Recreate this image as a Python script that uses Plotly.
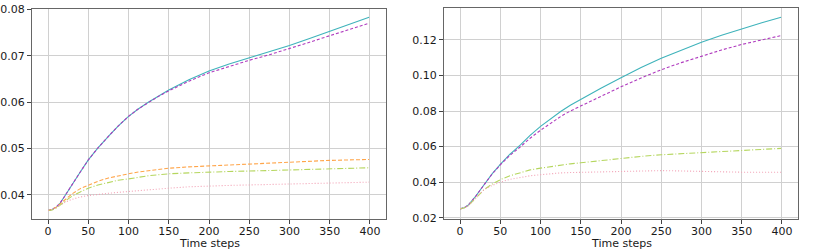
import plotly.graph_objects as go

# ---- data ----
x_steps = [0, 5, 10, 15, 20, 25, 30, 40, 50, 62, 75, 87, 100, 112, 125, 137, 150, 175, 200, 225, 250, 275, 300, 325, 350, 375, 399]

left_teal = [0.0366, 0.0368, 0.0373, 0.0382, 0.0395, 0.0409, 0.0422, 0.0449, 0.0475, 0.0501, 0.0526, 0.0548, 0.0569, 0.0585, 0.0600, 0.0613, 0.0626, 0.0648, 0.0667, 0.0682, 0.0695, 0.0708, 0.0722, 0.0737, 0.0752, 0.0767, 0.0783]
left_purple = [0.0366, 0.0368, 0.0373, 0.0382, 0.0395, 0.0409, 0.0422, 0.0449, 0.0475, 0.0501, 0.0526, 0.0548, 0.0569, 0.0585, 0.0599, 0.0612, 0.0624, 0.0645, 0.0663, 0.0677, 0.0690, 0.0702, 0.0715, 0.0729, 0.0743, 0.0756, 0.0770]
left_orange = [0.0366, 0.0368, 0.0373, 0.0380, 0.0388, 0.0395, 0.0402, 0.0413, 0.0421, 0.0429, 0.0436, 0.0441, 0.0445, 0.0449, 0.0452, 0.0455, 0.0457, 0.0460, 0.0462, 0.0465, 0.0467, 0.0469, 0.0470, 0.0472, 0.0474, 0.0475, 0.0476]
left_green = [0.0366, 0.0367, 0.0371, 0.0377, 0.0384, 0.0391, 0.0397, 0.0406, 0.0414, 0.0421, 0.0427, 0.0431, 0.0434, 0.0438, 0.0441, 0.0443, 0.0445, 0.0447, 0.0449, 0.0450, 0.0451, 0.0452, 0.0453, 0.0454, 0.0455, 0.0457, 0.0458]
left_pink = [0.0366, 0.0368, 0.0373, 0.0378, 0.0383, 0.0387, 0.0390, 0.0395, 0.0398, 0.0401, 0.0403, 0.0405, 0.0407, 0.0409, 0.0411, 0.0413, 0.0414, 0.0417, 0.0419, 0.0420, 0.0421, 0.0422, 0.0423, 0.0424, 0.0425, 0.0426, 0.0427]

right_teal = [0.0250, 0.0256, 0.0270, 0.0295, 0.0324, 0.0356, 0.0388, 0.0448, 0.0500, 0.0557, 0.0610, 0.0663, 0.0714, 0.0756, 0.0797, 0.0832, 0.0865, 0.0928, 0.0987, 0.1045, 0.1097, 0.1144, 0.1187, 0.1226, 0.1262, 0.1296, 0.1327]
right_purple = [0.0250, 0.0256, 0.0270, 0.0295, 0.0324, 0.0356, 0.0388, 0.0447, 0.0498, 0.0551, 0.0599, 0.0647, 0.0692, 0.0731, 0.0769, 0.0800, 0.0828, 0.0884, 0.0936, 0.0986, 0.1032, 0.1072, 0.1108, 0.1143, 0.1174, 0.1200, 0.1224]
right_green = [0.0250, 0.0255, 0.0267, 0.0290, 0.0317, 0.0340, 0.0359, 0.0390, 0.0414, 0.0436, 0.0455, 0.0469, 0.0479, 0.0488, 0.0496, 0.0503, 0.0509, 0.0522, 0.0533, 0.0545, 0.0554, 0.0560, 0.0566, 0.0571, 0.0576, 0.0583, 0.0590]
right_pink = [0.0250, 0.0255, 0.0267, 0.0290, 0.0317, 0.0340, 0.0359, 0.0382, 0.0400, 0.0416, 0.0428, 0.0436, 0.0442, 0.0448, 0.0452, 0.0454, 0.0455, 0.0458, 0.0461, 0.0464, 0.0465, 0.0463, 0.0460, 0.0458, 0.0456, 0.0456, 0.0456]

x_ticks = [0, 50, 100, 150, 200, 250, 300, 350, 400]
left_yticks = [0.04, 0.05, 0.06, 0.07, 0.08]
right_yticks = [0.02, 0.04, 0.06, 0.08, 0.10, 0.12]
x_title = "Time steps"

TEAL = "#3fb3bb"
PURPLE = "#b03cbf"
ORANGE = "#ffa54a"
GREEN = "#b5d65e"
PINK = "#f2a0b4"

fig = go.Figure()

def add(x, y, color, dash, xa, ya):
    fig.add_trace(go.Scatter(x=x, y=y, mode="lines", xaxis=xa, yaxis=ya,
                             line=dict(color=color, width=1.1, dash=dash),
                             showlegend=False, hoverinfo="skip"))

add(x_steps, left_teal, TEAL, "solid", "x", "y")
add(x_steps, left_purple, PURPLE, "3px,2px", "x", "y")
add(x_steps, left_orange, ORANGE, "4px,2px", "x", "y")
add(x_steps, left_green, GREEN, "6px,2px,1px,2px", "x", "y")
add(x_steps, left_pink, PINK, "1px,2px", "x", "y")

add(x_steps, right_teal, TEAL, "solid", "x2", "y2")
add(x_steps, right_purple, PURPLE, "3px,2px", "x2", "y2")
add(x_steps, right_green, GREEN, "6px,2px,1px,2px", "x2", "y2")
add(x_steps, right_pink, PINK, "1px,2px", "x2", "y2")

W, H = 830, 251
font = dict(family="DejaVu Sans", size=11, color="#1a1a1a")

def xaxis(dom, anchor):
    return dict(domain=dom, anchor=anchor, range=[-20, 420], tickvals=x_ticks,
                ticks="outside", ticklen=4, tickcolor="#444444", showline=True, mirror=True,
                linecolor="#666666", linewidth=1, showgrid=True, gridcolor="#d0d0d0",
                gridwidth=1, zeroline=False, tickfont=font, automargin=False,
                ticklabelstandoff=-2)

def yaxis(dom, anchor, rng, vals, fmt):
    return dict(domain=dom, anchor=anchor, range=rng, tickvals=vals, tickformat=fmt,
                ticks="outside", ticklen=4, tickcolor="#444444", showline=True, mirror=True,
                linecolor="#666666", linewidth=1, showgrid=True, gridcolor="#d0d0d0",
                gridwidth=1, zeroline=False, tickfont=font, automargin=False)

xd1 = [32 / W, 386 / W]
xd2 = [444 / W, 798 / W]
fig.update_layout(
    width=W, height=H,
    margin=dict(l=0, r=0, t=0, b=0, autoexpand=False),
    paper_bgcolor="white", plot_bgcolor="white",
    xaxis=xaxis(xd1, "y"),
    yaxis=yaxis([(H - 219) / H, (H - 9) / H], "x", [0.03475, 0.08007], left_yticks, ".2f"),
    xaxis2=xaxis(xd2, "y2"),
    yaxis2=yaxis([(H - 219) / H, (H - 8) / H], "x2", [0.0193, 0.1379], right_yticks, ".2f"),
)

for dom in (xd1, xd2):
    fig.add_annotation(text=x_title, xref="paper", yref="paper",
                       x=(dom[0] + dom[1]) / 2, y=(H - 243) / H,
                       xanchor="center", yanchor="middle", showarrow=False, font=font)

fig.write_html("out.html", config={"displayModeBar": False},
               post_script="document.body.style.margin='0';document.body.style.padding='0';")
